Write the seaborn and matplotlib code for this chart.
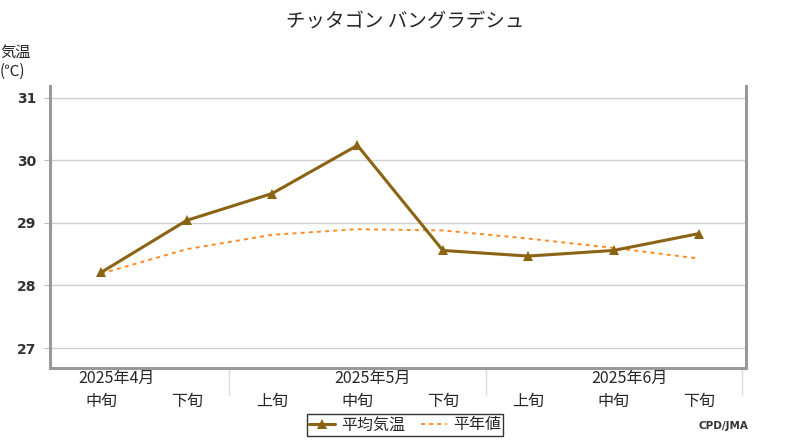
import pandas as pd
import seaborn as sns
import matplotlib.pyplot as plt
from matplotlib.lines import Line2D
import matplotlib.transforms as mtrans

# データ（チッタゴン 旬平均気温）
junkan = ["中旬", "下旬", "上旬", "中旬", "下旬", "上旬", "中旬", "下旬"]
tsuki = ["2025年4月", "2025年5月", "2025年6月"]
tsuki_pos = [0, 3, 6]
heikin = [28.21, 29.04, 29.47, 30.24, 28.56, 28.47, 28.56, 28.83]
heinen = [28.19, 28.58, 28.81, 28.90, 28.88, 28.75, 28.60, 28.43]

sns.set_style("white")
plt.rcParams["font.family"] = ["Noto Sans CJK JP", "DejaVu Sans"]

tabela = pd.DataFrame({"x": range(len(heikin)), "平均気温": heikin, "平年値": heinen})

fig = plt.figure(figsize=(8, 4.4), dpi=100)
ax = fig.add_axes([0.0625, 0.1636, 0.87, 0.641])

sns.lineplot(data=tabela, x="x", y="平年値", ax=ax, color="#ff8a20", linewidth=1.4,
             linestyle=(0, (2, 2.2)), label="平年値")
sns.lineplot(data=tabela, x="x", y="平均気温", ax=ax, color="#8a6414", linewidth=2.2,
             marker="^", markersize=7, markeredgewidth=0, label="平均気温")

ax.set_xlim(-0.6, 7.55)
ax.set_ylim(26.68, 31.19)
ax.set_yticks([27, 28, 29, 30, 31])
ax.set_yticklabels(["27", "28", "29", "30", "31"], family="DejaVu Sans",
                   fontsize=10, fontweight="bold", color="#333333")
ax.yaxis.grid(True, color="#d0d0d0", linewidth=1)
ax.tick_params(axis="y", length=4, color="#bbbbbb", pad=6, left=True)
ax.set_xticks(range(len(junkan)))
ax.set_xticklabels(junkan, fontsize=11.5)
ax.tick_params(axis="x", length=0, pad=18)
ax.set_xlabel("")
ax.set_ylabel("")

for s in ["left", "right", "bottom"]:
    ax.spines[s].set_color("#999999")
    ax.spines[s].set_linewidth(2.2)
ax.spines["top"].set_visible(False)

# 月ラベルと区切り線
trans = mtrans.blended_transform_factory(ax.transData, ax.transAxes)
for p, t in zip(tsuki_pos, tsuki):
    ax.text(p + 0.18, -0.038, t, transform=trans, ha="center", va="center", fontsize=11.5)
for xs in [1.5, 4.5, 7.5]:
    ax.add_line(Line2D([xs, xs], [-0.005, -0.095], transform=trans, color="#dddddd",
                       linewidth=1, clip_on=False))

fig.text(0.506, 0.95, "チッタゴン バングラデシュ", ha="center", va="center", fontsize=14)
fig.text(0.0, 0.88, "気温", ha="left", va="center", fontsize=11)
fig.text(0.0, 0.838, "(℃)", ha="left", va="center", fontsize=11)
fig.text(0.935, 0.032, "CPD/JMA", ha="right", va="center", fontsize=7.5,
         family="DejaVu Sans", fontweight="bold", color="#333333")

handles, labels = ax.get_legend_handles_labels()
leg = ax.legend(handles[::-1], labels[::-1], loc="upper center", bbox_to_anchor=(0.51, -0.135),
                ncol=2, frameon=True, fancybox=False, fontsize=11.5, edgecolor="black",
                handlelength=1.6, columnspacing=1.0, borderpad=0.15, handletextpad=0.4)
leg.get_frame().set_linewidth(1)

fig.savefig("out.png", dpi=100)
